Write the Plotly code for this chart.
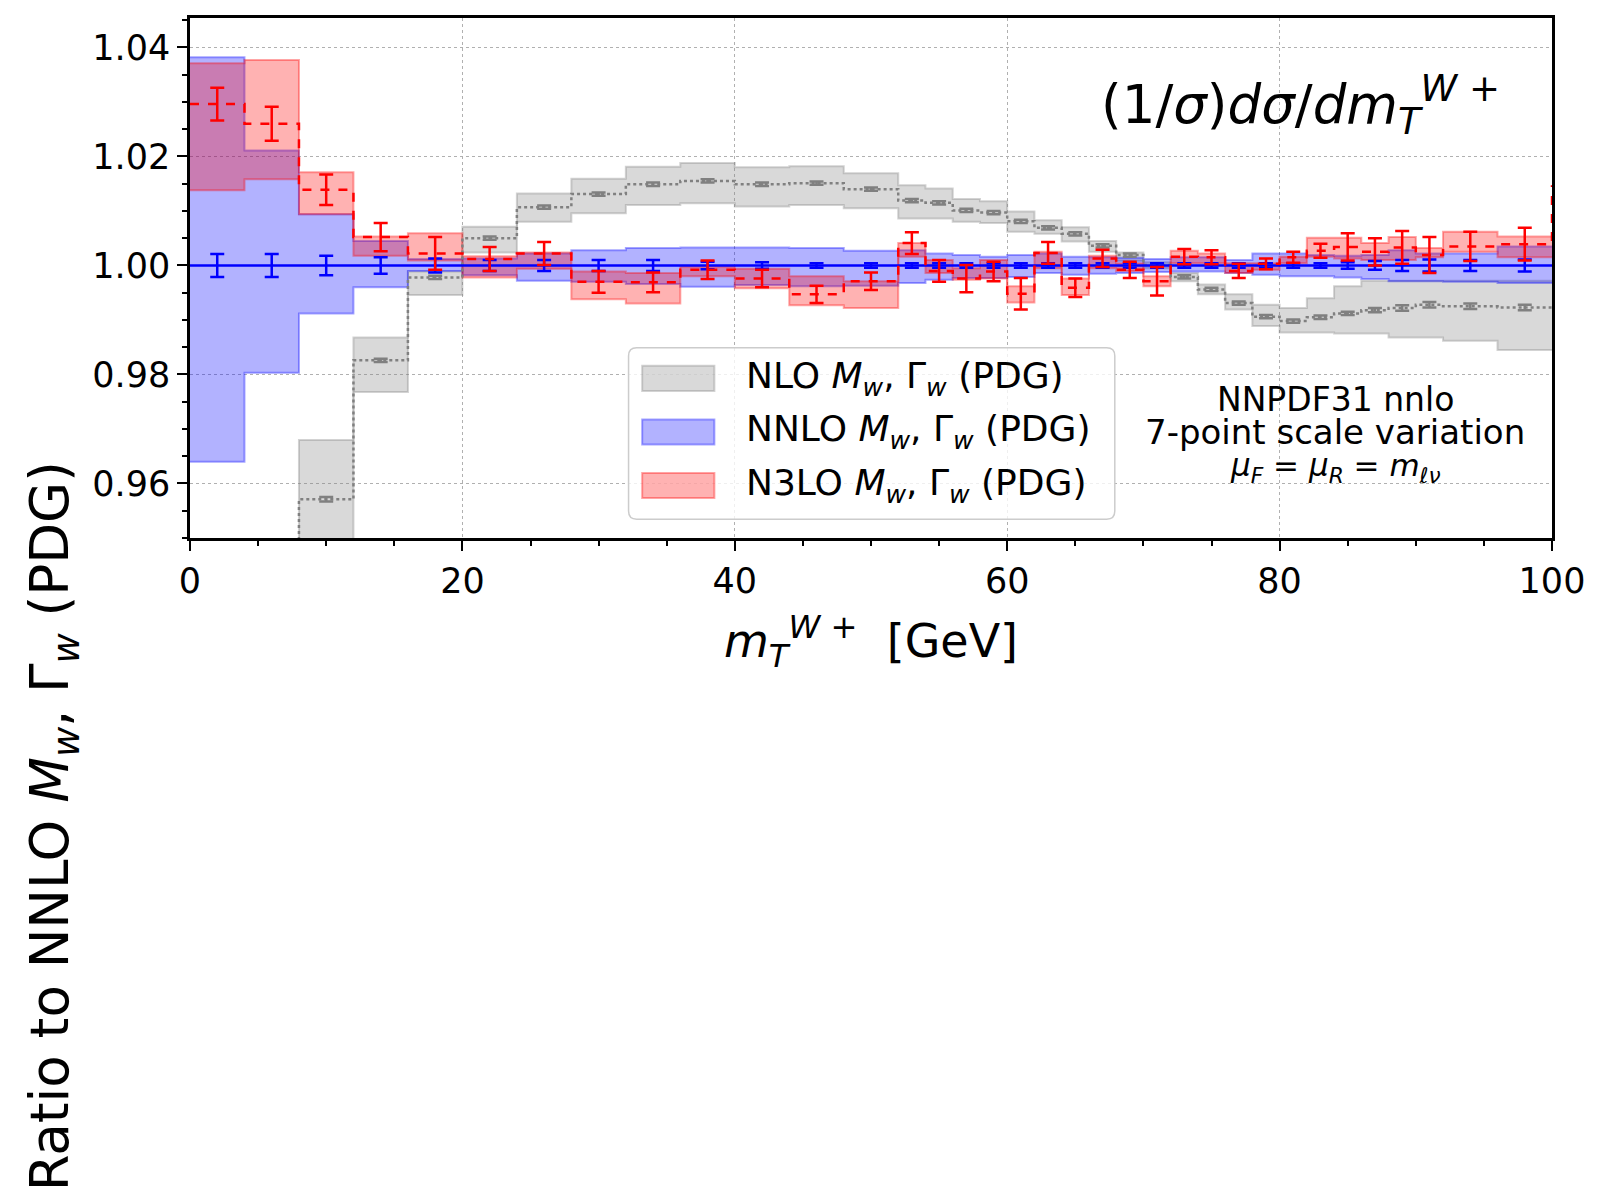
import plotly.graph_objects as go

# bin edges in m_T [GeV]
edges = [0, 4, 8, 12, 16, 20, 24, 28, 32, 36, 40, 44, 48, 52, 54, 56, 58, 60, 62, 64,
         66, 68, 70, 72, 74, 76, 78, 80, 82, 84, 86, 88, 90, 92, 96, 100]
overflow_edge = 104

# NLO (grey)
nlo_c = [0.930, 0.942, 0.9571, 0.9826, 0.9978, 1.0050, 1.0107, 1.0131, 1.0149, 1.0155,
         1.0149, 1.0151, 1.0140, 1.0119, 1.0115, 1.0101, 1.0097, 1.0081, 1.0069, 1.0058,
         1.0036, 1.0019, 1.0001, 0.9979, 0.9956, 0.9931, 0.9906, 0.9898, 0.9905, 0.9912,
         0.9918, 0.9922, 0.9928, 0.9925, 0.9923]
nlo_hi = [0.942, 0.948, 0.9680, 0.9868, 0.9989, 1.0071, 1.0132, 1.0159, 1.0181, 1.0188,
          1.0180, 1.0182, 1.0169, 1.0147, 1.0141, 1.0122, 1.0118, 1.0099, 1.0083, 1.0070,
          1.0045, 1.0024, 1.0006, 0.9986, 0.9965, 0.9947, 0.9928, 0.9922, 0.9940, 0.9962,
          0.9972, 0.9972, 0.9972, 0.9972, 0.9972]
nlo_lo = [0.915, 0.930, 0.945, 0.9768, 0.9946, 1.0024, 1.0080, 1.0096, 1.0111, 1.0114,
          1.0108, 1.0111, 1.0105, 1.0086, 1.0086, 1.0080, 1.0078, 1.0062, 1.0058, 1.0044,
          1.0025, 1.0008, 0.9995, 0.9971, 0.9947, 0.9919, 0.9889, 0.9877, 0.9877, 0.9875,
          0.9875, 0.9868, 0.9868, 0.9862, 0.9845]
nlo_err = [0.0003, 0.0003, 0.0004, 0.0003, 0.0003, 0.0003, 0.0003, 0.0003, 0.0003, 0.0003,
           0.0003, 0.0003, 0.0003, 0.0003, 0.0003, 0.0003, 0.0003, 0.0003, 0.0003, 0.0003,
           0.0003, 0.0003, 0.0003, 0.0003, 0.0003, 0.0003, 0.0003, 0.0003, 0.0003, 0.0003,
           0.0004, 0.0005, 0.0005, 0.0005, 0.0005]

# NNLO (blue), reference -> central is 1
nnlo_c = [1.0] * 35
nnlo_hi = [1.0382, 1.0211, 1.0094, 1.0045, 1.0012, 1.0013, 1.0022, 1.0028, 1.0032, 1.0033,
           1.0033, 1.0032, 1.0027, 1.0028, 1.0022, 1.0019, 1.0016, 1.0019, 1.0022, 1.0016,
           1.0015, 1.0014, 1.0012, 1.0015, 1.0015, 1.0010, 1.0022, 1.0022, 1.0019, 1.0018,
           1.0019, 1.0028, 1.0022, 1.0022, 1.0035]
nnlo_lo = [0.9640, 0.9803, 0.9912, 0.9960, 0.9990, 0.9982, 0.9972, 0.9970, 0.9966, 0.9961,
           0.9964, 0.9962, 0.9963, 0.9968, 0.9974, 0.9977, 0.9977, 0.9979, 0.9986, 0.9983,
           0.9985, 0.9986, 0.9988, 0.9989, 0.9989, 0.9986, 0.9983, 0.9980, 0.9980, 0.9978,
           0.9975, 0.9971, 0.9971, 0.9970, 0.9968]
nnlo_err = [0.0021, 0.0021, 0.0018, 0.0015, 0.0013, 0.0010, 0.0010, 0.0010, 0.0010, 0.0007,
            0.0006, 0.0004, 0.0004, 0.0004, 0.0004, 0.0004, 0.0004, 0.0004, 0.0004, 0.0004,
            0.0004, 0.0004, 0.0004, 0.0004, 0.0004, 0.0004, 0.0004, 0.0004, 0.0004, 0.0006,
            0.0008, 0.0010, 0.0011, 0.0010, 0.0011]

# N3LO (red)
n3lo_c = [1.0296, 1.0260, 1.0139, 1.0052, 1.0022, 1.0012, 1.0022, 0.9970, 0.9969, 0.9992,
          0.9976, 0.9947, 0.9971, 1.0041, 0.9990, 0.9976, 0.9989, 0.9948, 1.0023, 0.9959,
          1.0013, 0.9992, 0.9971, 1.0016, 1.0015, 0.9990, 1.0003, 1.0015, 1.0027, 1.0034,
          1.0025, 1.0033, 1.0019, 1.0035, 1.0039]
n3lo_overflow = 1.0145
n3lo_hi = [1.0371, 1.0377, 1.0171, 1.0053, 1.0059, 1.0017, 1.0024, 0.9989, 0.9986, 0.9998,
           0.9994, 0.9980, 0.9971, 1.0041, 1.0010, 0.9995, 1.0010, 0.9962, 1.0025, 0.9976,
           1.0018, 1.0004, 0.9980, 1.0027, 1.0022, 1.0004, 1.0004, 1.0016, 1.0051, 1.0051,
           1.0041, 1.0052, 1.0032, 1.0062, 1.0053]
n3lo_lo = [1.0138, 1.0158, 1.0094, 1.0018, 1.0009, 0.9978, 0.9994, 0.9938, 0.9930, 0.9980,
           0.9958, 0.9927, 0.9922, 1.0016, 0.9986, 0.9974, 0.9976, 0.9932, 0.9995, 0.9946,
           0.9995, 0.9990, 0.9962, 1.0004, 1.0004, 0.9986, 0.9992, 1.0004, 1.0016, 1.0013,
           1.0010, 1.0010, 1.0015, 1.0025, 1.0015]
n3lo_err = [0.0030, 0.0031, 0.0028, 0.0026, 0.0030, 0.0022, 0.0021, 0.0020, 0.0018, 0.0017,
            0.0016, 0.0016, 0.0016, 0.0020, 0.0020, 0.0025, 0.0018, 0.0029, 0.0020, 0.0017,
            0.0016, 0.0015, 0.0026, 0.0014, 0.0013, 0.0013, 0.0010, 0.0010, 0.0013, 0.0025,
            0.0025, 0.0030, 0.0033, 0.0027, 0.0030]

legend_names = ["NLO <i>M</i><sub><i>w</i></sub>, Γ<sub><i>w</i></sub> (PDG)",
                "NNLO <i>M</i><sub><i>w</i></sub>, Γ<sub><i>w</i></sub> (PDG)",
                "N3LO <i>M</i><sub><i>w</i></sub>, Γ<sub><i>w</i></sub> (PDG)"]

FONT = "DejaVu Sans"
centers = [(a + b) / 2 for a, b in zip(edges[:-1], edges[1:])]

styles = [
    # fill, edge, line colour, dash, error colour
    ("rgba(128,128,128,0.3)", "rgba(128,128,128,0.35)", "grey", "dot", "grey"),
    ("rgba(0,0,255,0.3)", "rgba(0,0,255,0.35)", "blue", "solid", "blue"),
    ("rgba(255,0,0,0.3)", "rgba(255,0,0,0.35)", "red", "dash", "red"),
]
series = [
    (nlo_c, nlo_lo, nlo_hi, nlo_err, nlo_c[-1]),
    (nnlo_c, nnlo_lo, nnlo_hi, nnlo_err, nnlo_c[-1]),
    (n3lo_c, n3lo_lo, n3lo_hi, n3lo_err, n3lo_overflow),
]

fig = go.Figure()

for (c, lo, hi, err, ovf), (fill, edge, lc, dash, ec) in zip(series, styles):
    fig.add_trace(go.Scatter(x=edges, y=lo + [lo[-1]], mode="lines", line_shape="hv",
                             line=dict(color=edge, width=2), showlegend=False,
                             hoverinfo="skip"))
    fig.add_trace(go.Scatter(x=edges, y=hi + [hi[-1]], mode="lines", line_shape="hv",
                             line=dict(color=edge, width=2), fill="tonexty",
                             fillcolor=fill, showlegend=False, hoverinfo="skip"))

for (c, lo, hi, err, ovf), (fill, edge, lc, dash, ec) in zip(series, styles):
    fig.add_trace(go.Scatter(x=edges + [overflow_edge], y=c + [ovf, ovf], mode="lines",
                             line_shape="hv",
                             line=dict(color=lc, width=2.5, dash=dash),
                             showlegend=False))
    fig.add_trace(go.Scatter(x=centers, y=c, mode="markers",
                             marker=dict(size=1, color=ec, opacity=0),
                             error_y=dict(type="data", array=err, color=ec,
                                          thickness=2.5, width=7),
                             showlegend=False))

# legend box drawn on the axes (rounded corners)
bx0, bx1, by0, by1 = 32.2, 67.9, 0.95345, 0.98491
rx, ry = 0.6, 0.0015
box_path = (f"M {bx0 + rx},{by0} L {bx1 - rx},{by0} Q {bx1},{by0} {bx1},{by0 + ry} "
            f"L {bx1},{by1 - ry} Q {bx1},{by1} {bx1 - rx},{by1} "
            f"L {bx0 + rx},{by1} Q {bx0},{by1} {bx0},{by1 - ry} "
            f"L {bx0},{by0 + ry} Q {bx0},{by0} {bx0 + rx},{by0} Z")
leg_rows = [0.97928, 0.96946, 0.95964]
shapes = [dict(type="path", xref="x", yref="y", path=box_path,
               line=dict(color="#cccccc", width=1.5), fillcolor="rgba(255,255,255,0.8)",
               layer="above")]
annotations = []
for row, name, (fill, edge, lc, dash, ec) in zip(leg_rows, legend_names, styles):
    shapes.append(dict(type="rect", xref="x", yref="y", x0=33.2, x1=38.5,
                       y0=row - 0.0023, y1=row + 0.0023,
                       line=dict(color=edge, width=2), fillcolor=fill, layer="above"))
    annotations.append(dict(x=40.7, y=row, xref="x", yref="y", text=name,
                            showarrow=False, xanchor="left", yanchor="middle",
                            font=dict(family=FONT, size=36, color="black")))

annotations += [
    dict(x=81.5, y=1.0295, xref="x", yref="y", showarrow=False,
         xanchor="center", yanchor="middle",
         text="(1/<i>σ</i>)<i>dσ</i>/<i>dm</i><sub><i>T</i></sub><sup><i>W</i> +</sup>",
         font=dict(family=FONT, size=53, color="black")),
    dict(x=84.1, y=0.9754, xref="x", yref="y", showarrow=False, text="NNPDF31 nnlo",
         xanchor="center", yanchor="middle",
         font=dict(family=FONT, size=33, color="black")),
    dict(x=84.1, y=0.9695, xref="x", yref="y", showarrow=False,
         xanchor="center", yanchor="middle",
         text="7-point scale variation", font=dict(family=FONT, size=34, color="black")),
    dict(x=84.1, y=0.9629, xref="x", yref="y", showarrow=False,
         xanchor="center", yanchor="middle",
         text="<i>μ</i><sub><i>F</i></sub> = <i>μ</i><sub><i>R</i></sub> = <i>m</i><sub><i>ℓν</i></sub>",
         font=dict(family=FONT, size=31, color="black")),
    dict(x=0.5, y=-0.199, xref="paper", yref="paper", showarrow=False,
         xanchor="center", yanchor="middle",
         text="<i>m</i><sub><i>T</i></sub><sup><i>W</i> +</sup>  [GeV]",
         font=dict(family=FONT, size=46, color="black")),
    dict(x=-0.1006, y=-0.5545, xref="paper", yref="paper", showarrow=False, textangle=-90,
         xanchor="center", yanchor="middle",
         text="Ratio to NNLO <i>M</i><sub><i>w</i></sub>, Γ<sub><i>w</i></sub> (PDG)",
         font=dict(family=FONT, size=53, color="black")),
]

axis_common = dict(showline=True, linecolor="black", linewidth=2.5, mirror=True,
                   ticks="outside", ticklen=10, tickwidth=2, tickcolor="black",
                   showgrid=True, gridcolor="#b0b0b0", griddash="dot", gridwidth=1,
                   zeroline=False, tickfont=dict(family=FONT, size=35, color="black"))

fig.update_layout(
    width=1590, height=1190,
    margin=dict(l=182, r=46, t=7, b=660),
    plot_bgcolor="white", paper_bgcolor="white",
    shapes=shapes, annotations=annotations,
    xaxis=dict(range=[0, 100], dtick=20, tick0=0,
               minor=dict(dtick=5, ticks="outside", ticklen=5, tickcolor="black",
                          showgrid=False),
               **axis_common),
    yaxis=dict(range=[0.95, 1.0454], dtick=0.02, tick0=0.96, tickformat=".2f",
               minor=dict(dtick=0.005, ticks="outside", ticklen=5, tickcolor="black",
                          showgrid=False),
               **axis_common),
)

fig.write_html("out.html")
